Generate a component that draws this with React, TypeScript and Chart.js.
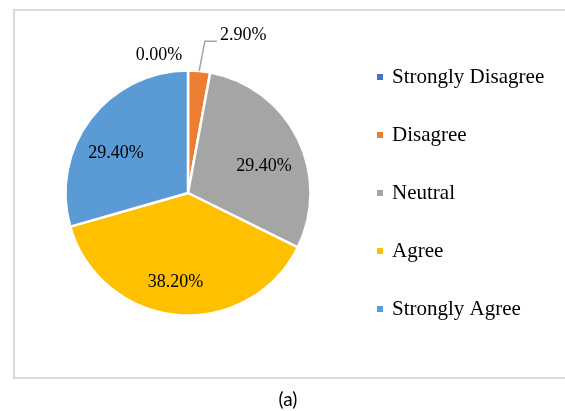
import { useEffect, useRef } from 'react';
import { Chart, registerables } from 'chart.js';

Chart.register(...registerables);

const categories = ['Strongly Disagree', 'Disagree', 'Neutral', 'Agree', 'Strongly Agree'];
const shares = [0, 2.9, 29.4, 38.2, 29.4];
const sliceColors = ['#4472C4', '#ED7D31', '#A5A5A5', '#FFC000', '#5B9BD5'];

// Where each percentage label goes: inside the slice, or beyond the rim (optionally with a leader line).
const labelPlacement = [
  { outside: true, leader: false, gap: 17, dx: -29, dy: 2 },
  { outside: true, leader: true, gap: 30, dx: 3, dy: 0 },
  { outside: false, leader: false, gap: 0, dx: 2, dy: 10 },
  { outside: false, leader: false, gap: 0, dx: -5, dy: 7 },
  { outside: false, leader: false, gap: 0, dx: -6, dy: 10 },
];

const LABEL_FONT = '18px "Liberation Serif"';
const LEGEND_WIDTH = 226.5;

// Small square legend marker, drawn a little to the right inside its image
// so that it sits close to the legend text.
function makeMarker(color: string): HTMLCanvasElement {
  const c = document.createElement('canvas');
  c.width = 9;
  c.height = 6;
  const g = c.getContext('2d')!;
  g.fillStyle = color;
  g.fillRect(3, 0, 6, 6);
  return c;
}

const pieLabels = {
  id: 'pieLabels',
  afterDatasetsDraw(chart: any) {
    const { ctx } = chart;
    const meta = chart.getDatasetMeta(0);
    ctx.save();
    ctx.font = LABEL_FONT;
    ctx.fillStyle = '#000';
    ctx.textBaseline = 'middle';
    meta.data.forEach((arc: any, i: number) => {
      const { x, y, startAngle, endAngle, outerRadius } = arc.getProps(
        ['x', 'y', 'startAngle', 'endAngle', 'outerRadius'],
        true
      );
      const mid = (startAngle + endAngle) / 2;
      const cos = Math.cos(mid);
      const sin = Math.sin(mid);
      const p = labelPlacement[i];
      const text = shares[i].toFixed(2) + '%';
      if (!p.outside) {
        const r = outerRadius * 0.675;
        ctx.textAlign = 'center';
        ctx.fillText(text, x + cos * r + p.dx, y + sin * r + p.dy);
      } else if (!p.leader) {
        const r = outerRadius + p.gap;
        ctx.textAlign = 'center';
        ctx.fillText(text, x + cos * r + p.dx, y + sin * r + p.dy);
      } else {
        const sx = x + cos * outerRadius;
        const sy = y + sin * outerRadius;
        const ex = x + cos * (outerRadius + p.gap) + p.dx;
        const ey = y + sin * (outerRadius + p.gap) + p.dy;
        ctx.strokeStyle = '#A6A6A6';
        ctx.lineWidth = 1.5;
        ctx.beginPath();
        ctx.moveTo(sx, sy);
        ctx.lineTo(ex, ey);
        ctx.lineTo(ex + 12, ey);
        ctx.stroke();
        ctx.textAlign = 'left';
        ctx.fillText(text, ex + 15, ey - 6);
      }
    });
    ctx.restore();
  },
};

// Give the legend a fixed width so the pie keeps its place on the left.
const fixedLegend = {
  id: 'fixedLegend',
  afterInit(chart: any) {
    const legend = chart.legend;
    if (!legend) return;
    const fit = legend.fit.bind(legend);
    legend.fit = function () {
      fit();
      this.width = LEGEND_WIDTH;
    };
  },
};

export default function App() {
  const canvasRef = useRef<HTMLCanvasElement>(null);

  useEffect(() => {
    if (!canvasRef.current) return;
    const markers = sliceColors.map(makeMarker);
    const baseLabels = (Chart as any).overrides.pie.plugins.legend.labels.generateLabels;
    const chart = new Chart(canvasRef.current, {
      type: 'pie',
      data: {
        labels: categories,
        datasets: [
          {
            data: shares,
            backgroundColor: sliceColors,
            borderColor: '#FFFFFF',
            borderWidth: 2.5,
            radius: 122.5,
          } as any,
        ],
      },
      options: {
        responsive: false,
        animation: false,
        events: [],
        layout: { padding: { left: 37.5, right: 0, top: 0, bottom: 25 } },
        plugins: {
          tooltip: { enabled: false },
          legend: {
            position: 'right',
            labels: {
              boxWidth: 6,
              boxHeight: 6,
              usePointStyle: true,
              padding: 37,
              color: '#000',
              textAlign: 'left',
              font: { family: 'Liberation Serif', size: 21 },
              generateLabels: (c: any) =>
                baseLabels(c).map((l: any, i: number) => ({
                  ...l,
                  pointStyle: markers[i],
                  lineWidth: 0,
                  strokeStyle: 'rgba(0,0,0,0)',
                })),
            },
          },
        },
      },
      plugins: [pieLabels, fixedLegend],
    });
    return () => chart.destroy();
  }, []);

  return (
    <div
      style={{
        position: 'absolute',
        left: 0,
        top: 0,
        width: 565,
        height: 411,
        overflow: 'hidden',
        background: '#fff',
      }}
    >
      <div
        style={{
          position: 'absolute',
          left: 13,
          top: 9,
          width: 600,
          height: 370,
          boxSizing: 'border-box',
          border: '2px solid #D9D9D9',
        }}
      />
      <canvas
        ref={canvasRef}
        width={565}
        height={411}
        style={{ position: 'absolute', left: 0, top: 0, width: 565, height: 411 }}
      />
      <div
        style={{
          position: 'absolute',
          left: 0,
          width: 576,
          top: 387,
          textAlign: 'center',
          fontFamily: 'Lato, "Open Sans", sans-serif',
          fontSize: 19,
          lineHeight: '24px',
          color: '#000',
        }}
      >
        (a)
      </div>
    </div>
  );
}
